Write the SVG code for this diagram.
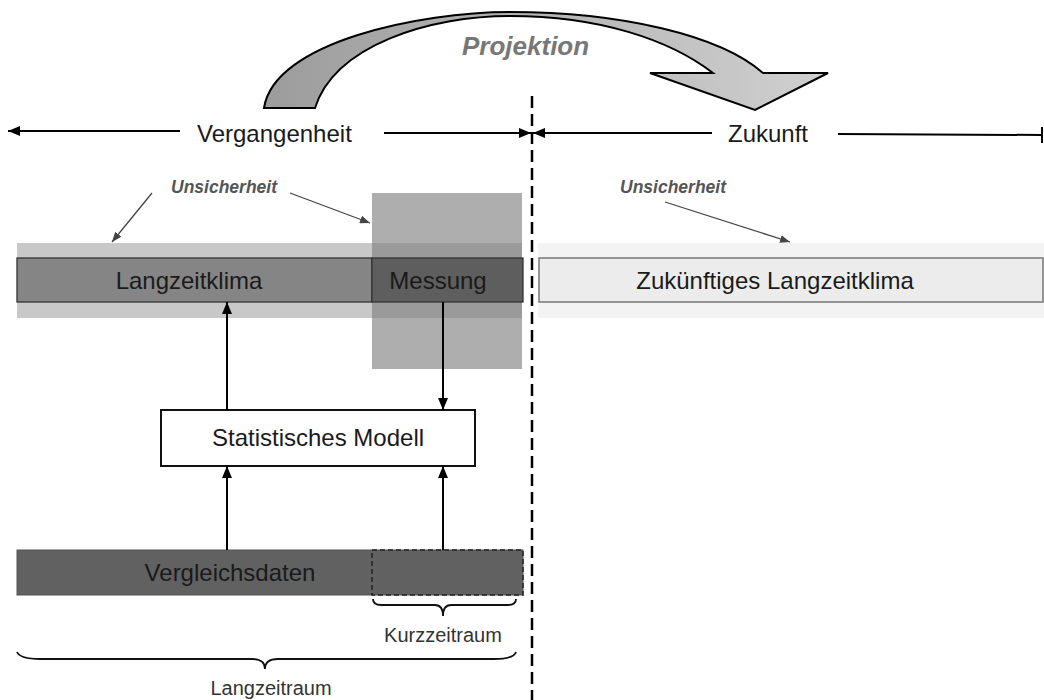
<svg xmlns="http://www.w3.org/2000/svg" width="1044" height="700" viewBox="0 0 1044 700">
  <style>
    .t { font-family: "Liberation Sans", Arial, sans-serif; fill: #1a1a1a; }
    .big { font-size: 24px; }
    .mid { font-size: 20px; fill: #333; }
    .uns { font-size: 17.5px; font-weight: bold; font-style: italic; fill: #555; }
    .proj { font-size: 26px; font-weight: bold; font-style: italic; fill: #777; }
    .ln { stroke: #000; stroke-width: 2; fill: none; }
    .thin { stroke: #444; stroke-width: 1.3; fill: none; }
    .brace { stroke: #111; stroke-width: 1.8; fill: none; }
  </style>
  <defs>
    <marker id="ah" markerUnits="userSpaceOnUse" markerWidth="12" markerHeight="10" viewBox="0 0 12 10" refX="12" refY="5" orient="auto">
      <path d="M0,0 L12,5 L0,10 z" fill="#000"/>
    </marker>
    <marker id="ahg" markerUnits="userSpaceOnUse" markerWidth="10" markerHeight="8" viewBox="0 0 10 8" refX="10" refY="4" orient="auto">
      <path d="M0,0 L10,4 L0,8 z" fill="#444"/>
    </marker>
    <linearGradient id="arcg" x1="264" y1="0" x2="828" y2="0" gradientUnits="userSpaceOnUse">
      <stop offset="0" stop-color="#9c9c9c"/>
      <stop offset="1" stop-color="#d0d0d0"/>
    </linearGradient>
  </defs>

  <!-- Projektion curved arrow -->
  <g id="projektion">
    <path d="M264,108 C274,42 420,12 510,12 C620,12 720,35 763,73 L828,73 L755,110 L650,73 L713,73 C670,40 600,16 510,16 C430,16 335,45 315,108 Z" fill="url(#arcg)" stroke="#000" stroke-width="2" stroke-linejoin="miter"/>
    <text class="t proj" x="462" y="55">Projektion</text>
  </g>

  <!-- time axis -->
  <g id="axis">
    <text class="t big" x="197" y="142">Vergangenheit</text>
    <text class="t big" x="728" y="142">Zukunft</text>
  </g>

  <!-- past uncertainty bands -->
  <g id="langzeitklima">
    <rect x="17" y="243" width="505" height="75" fill="#c8c8c8"/>
    <rect x="372" y="193" width="150" height="176" fill="#aeaeae"/>
    <rect x="372" y="243" width="150" height="75" fill="#9a9a9a"/>
    <rect x="17" y="258" width="355" height="44" fill="#858585" stroke="#333" stroke-width="1.3"/>
    <text class="t big" x="189" y="289" text-anchor="middle">Langzeitklima</text>
  </g>
  <g id="messung">
    <rect x="372" y="258" width="151" height="44" fill="#5e5e5e" stroke="#333" stroke-width="1.3"/>
    <text class="t big" x="438" y="289" text-anchor="middle">Messung</text>
  </g>

  <g id="zukuenftig">
    <rect x="538" y="243" width="506" height="75" fill="#f3f3f3"/>
    <rect x="539" y="258" width="504" height="44" fill="#ececec" stroke="#777" stroke-width="1.5"/>
    <text class="t big" x="775" y="289" text-anchor="middle">Zukünftiges Langzeitklima</text>
  </g>

  <g id="unsicherheit-links">
    <text class="t uns" x="171" y="193">Unsicherheit</text>
  </g>
  <g id="unsicherheit-rechts">
    <text class="t uns" x="620" y="193">Unsicherheit</text>
  </g>

  <g id="modell">
    <rect x="161" y="410" width="314" height="56" fill="#fff" stroke="#111" stroke-width="2"/>
    <text class="t big" x="318" y="446" text-anchor="middle">Statistisches Modell</text>
  </g>

  <g id="vergleichsdaten">
    <rect x="17" y="550" width="506" height="45" fill="#616161" stroke="#555" stroke-width="1"/>
    <rect x="372" y="550" width="151" height="45" fill="none" stroke="#222" stroke-width="1.5" stroke-dasharray="5,3"/>
    <text class="t big" x="230" y="581" text-anchor="middle">Vergleichsdaten</text>
  </g>

  <g id="kurzzeitraum">
    <path class="brace" d="M373,599 Q373,605 381,605 L435,605 Q443,605 443,616 Q443,605 451,605 L508,605 Q516,605 516,599"/>
    <text class="t mid" x="443" y="642" text-anchor="middle">Kurzzeitraum</text>
  </g>

  <g id="langzeitraum">
    <path class="brace" d="M17,652 Q20,659 40,659 L252,659 Q265,659 265,669 Q265,659 278,659 L494,659 Q514,659 516,652"/>
    <text class="t mid" x="271" y="695" text-anchor="middle">Langzeitraum</text>
  </g>

  <!-- connectors -->
  <g id="connectors">
    <line x1="532" y1="96" x2="532" y2="700" stroke="#000" stroke-width="2.5" stroke-dasharray="12,6"/>
    <line class="ln" x1="180" y1="131" x2="8" y2="131" marker-end="url(#ah)"/>
    <line class="ln" x1="384" y1="133" x2="531" y2="133" marker-end="url(#ah)"/>
    <line class="ln" x1="712" y1="133" x2="533" y2="133" marker-end="url(#ah)"/>
    <line class="ln" x1="838" y1="134" x2="1042" y2="135"/>
    <line class="ln" x1="1042" y1="127" x2="1042" y2="143"/>
    <line class="ln" x1="227" y1="410" x2="227" y2="302" marker-end="url(#ah)"/>
    <line class="ln" x1="443" y1="302" x2="443" y2="410" marker-end="url(#ah)"/>
    <line class="ln" x1="227" y1="550" x2="227" y2="466" marker-end="url(#ah)"/>
    <line class="ln" x1="443" y1="550" x2="443" y2="466" marker-end="url(#ah)"/>
    <line class="thin" x1="152" y1="193" x2="112" y2="242" marker-end="url(#ahg)"/>
    <line class="thin" x1="290" y1="193" x2="370" y2="223" marker-end="url(#ahg)"/>
    <line class="thin" x1="665" y1="202" x2="790" y2="242" marker-end="url(#ahg)"/>
  </g>
</svg>
